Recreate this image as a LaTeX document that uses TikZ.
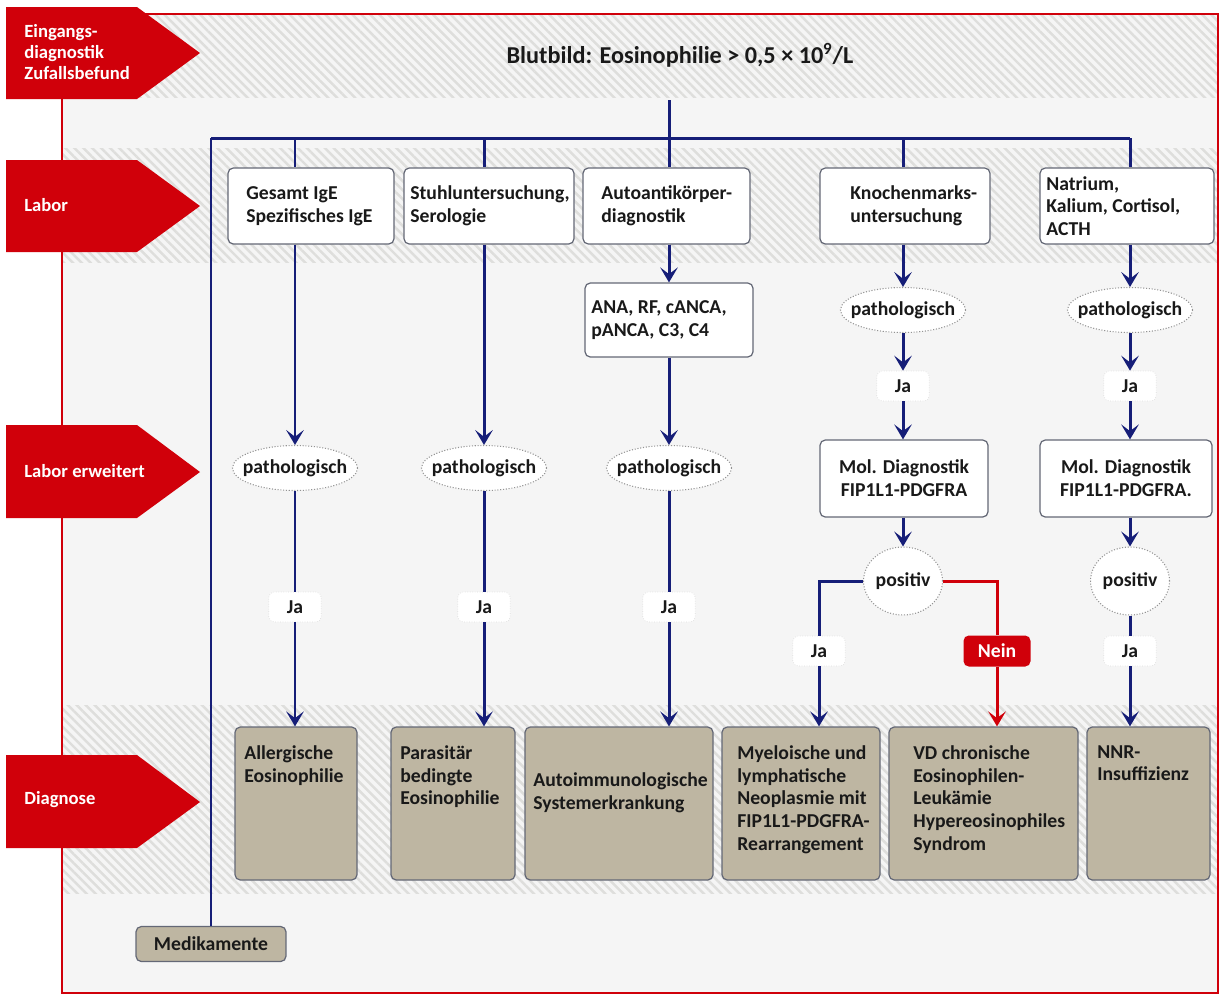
\documentclass[tikz,border=0pt]{standalone}
\usepackage{fontspec}
\setmainfont{Carlito}
\usetikzlibrary{arrows.meta,shapes.geometric,patterns.meta,fit}
\definecolor{navy}{RGB}{22,30,120}
\definecolor{tagred}{RGB}{208,0,10}
\definecolor{tanfill}{RGB}{190,182,162}
\definecolor{bggray}{RGB}{245,245,245}
\definecolor{hatchc}{RGB}{222,222,220}
\definecolor{ink}{RGB}{25,25,25}
\definecolor{boxline}{RGB}{100,104,118}
\tikzset{
  hatchband/.style={pattern={Lines[angle=-45,distance=3.6pt,line width=1.4pt]}, pattern color=hatchc},
  tagshape/.style={fill=tagred},
  tagtxt/.style={text=white, align=left, anchor=west, font=\bfseries\fontsize{10.6}{12}\selectfont, inner sep=0pt},
  labbox/.style={draw=boxline, fill=white, rounded corners=3pt, line width=0.7pt, inner sep=0pt},
  diagbox/.style={draw=boxline, fill=tanfill, rounded corners=3pt, line width=0.7pt, inner sep=0pt},
  txt/.style={text=ink, align=left, inner sep=0pt},
  ctxt/.style={text=ink, align=center, inner sep=0pt},
  ell/.style={ellipse, draw=gray!85, densely dotted, line width=0.6pt, fill=white, text=ink, inner xsep=-4.5pt, inner ysep=0pt, minimum width=2.45cm, minimum height=0.9cm},
  posell/.style={ellipse, draw=gray!85, densely dotted, line width=0.6pt, fill=white, text=ink, inner sep=0pt, minimum width=1.58cm, minimum height=1.36cm},
  jabox/.style={draw=gray!25, densely dotted, fill=white, rounded corners=3pt, text=ink, minimum width=1.05cm, minimum height=0.6cm, inner sep=0pt},
  neinbox/.style={fill=tagred, rounded corners=3pt, text=white, minimum width=1.34cm, minimum height=0.62cm, inner sep=0pt},
  conn/.style={draw=navy, line width=1.7pt},
  arr/.style={conn, -{Stealth[length=8.5pt,width=10pt,inset=3.8pt]}},
  rconn/.style={draw=tagred, line width=1.7pt},
  rarr/.style={rconn, -{Stealth[length=8.5pt,width=10pt,inset=3.8pt]}},
}
\begin{document}
\begin{tikzpicture}[x=0.02cm,y=-0.02cm,font=\bfseries\fontsize{11.2}{13}\selectfont]
\useasboundingbox (0,0) rectangle (1222,995);
\fill[white] (0,0) rectangle (1222,995);
% background and bands
\fill[bggray] (62,14) rectangle (1218,993);
\fill[hatchband] (62,14) rectangle (1218,97);
\fill[hatchband] (62,148) rectangle (1218,262);
\fill[hatchband] (62,705) rectangle (1218,893);
% frame
\draw[tagred, line width=1.2pt] (137,14) -- (1218,14) -- (1218,993) -- (62,993) -- (62,99);
% row tags
\fill[tagshape] (6,7) -- (137,7) -- (200,53) -- (137,99) -- (6,99) -- cycle;
\fill[tagshape] (6,160) -- (137,160) -- (200,206) -- (137,252) -- (6,252) -- cycle;
\fill[tagshape] (6,425) -- (137,425) -- (200,472) -- (137,518) -- (6,518) -- cycle;
\fill[tagshape] (6,755) -- (137,755) -- (200,802) -- (137,848) -- (6,848) -- cycle;
\node[tagtxt] (tg1) at (24,52) {Eingangs-\\diagnostik\\Zufallsbefund};
\node[tagtxt] (tg2) at (24,205) {Labor};
\node[tagtxt] (tg3) at (24,471) {Labor erweitert};
\node[tagtxt] (tg4) at (24,800) {Diagnose};
% title
\node[ctxt, font=\bfseries\fontsize{13.8}{16}\selectfont] (title) at (680,55) {Blutbild: Eosinophilie > 0,5 × 10\textsuperscript{9}/L};
% lab boxes
\node[labbox, fit={(228,168) (394,244)}] (b1) {};
\node[txt, anchor=west] (b1t) at (246,206) {Gesamt IgE\\Spezifisches IgE};
\node[labbox, fit={(404,168) (574,244)}] (b2) {};
\node[txt, anchor=west] (b2t) at (410,206) {Stuhluntersuchung,\\Serologie};
\node[labbox, fit={(583,168) (750,244)}] (b3) {};
\node[txt, anchor=west] (b3t) at (601,206) {Autoantikörper-\\diagnostik};
\node[labbox, fit={(820,168) (990,244)}] (b4) {};
\node[txt, anchor=west] (b4t) at (850,206) {Knochenmarks-\\untersuchung};
\node[labbox, fit={(1040,168) (1214,244)}] (b5) {};
\node[txt, anchor=west] (b5t) at (1046,206) {Natrium,\\Kalium, Cortisol,\\ACTH};
% ANA box
\node[labbox, fit={(585,283) (753,357)}] (ana) {};
\node[txt, anchor=west] (anat) at (591,320) {ANA, RF, cANCA,\\pANCA, C3, C4};
% ellipses
\node[ell] (p1) at (295,468) {pathologisch};
\node[ell] (p2) at (484,468) {pathologisch};
\node[ell] (p3) at (669,468) {pathologisch};
\node[ell, minimum width=2.5cm] (p4) at (903,310) {pathologisch};
\node[ell, minimum width=2.5cm] (p5) at (1130,310) {pathologisch};
% Ja boxes
\node[jabox] (j1) at (295,607) {Ja};
\node[jabox] (j2) at (484,607) {Ja};
\node[jabox] (j3) at (669,607) {Ja};
\node[jabox] (j4a) at (903,386) {Ja};
\node[jabox] (j5a) at (1130,386) {Ja};
% Mol boxes
\node[labbox, fit={(820,440) (988,517)}] (m4) {};
\node[ctxt] (m4t) at (904,478) {Mol. Diagnostik\\FIP1L1-PDGFRA};
\node[labbox, fit={(1040,440) (1212,517)}] (m5) {};
\node[ctxt] (m5t) at (1126,478) {Mol. Diagnostik\\FIP1L1-PDGFRA.};
% positiv
\node[posell] (q4) at (903,581) {positiv};
\node[posell] (q5) at (1130,581) {positiv};
\node[jabox] (j4b) at (819,651) {Ja};
\node[neinbox] (nein) at (997,651) {Nein};
\node[jabox] (j5b) at (1130,651) {Ja};
% diagnosis boxes
\node[diagbox, fit={(235,727) (357,880)}] (d1) {};
\node[txt, anchor=north west] (d1t) at (244,745) {Allergische\\Eosinophilie};
\node[diagbox, fit={(391,727) (515,880)}] (d2) {};
\node[txt, anchor=north west] (d2t) at (400,745) {Parasitär\\bedingte\\Eosinophilie};
\node[diagbox, fit={(525,727) (713,880)}] (d3) {};
\node[txt, anchor=north west] (d3t) at (533,772) {Autoimmunologische\\Systemerkrankung};
\node[diagbox, fit={(722,727) (880,880)}] (d4) {};
\node[txt, anchor=north west] (d4t) at (737,745) {Myeloische und\\lymphatische\\Neoplasmie mit\\FIP1L1-PDGFRA-\\Rearrangement};
\node[diagbox, fit={(889,727) (1078,880)}] (d5) {};
\node[txt, anchor=north west] (d5t) at (913,745) {VD chronische\\Eosinophilen-\\Leukämie\\Hypereosinophiles\\Syndrom};
\node[diagbox, fit={(1087,727) (1210,880)}] (d6) {};
\node[txt, anchor=north west] (d6t) at (1097,745) {NNR-\\Insuffizienz};
\node[diagbox, minimum width=3cm, minimum height=0.7cm] (med) at (211,944) {\textcolor{ink}{Medikamente}};
% connectors
\coordinate (top) at (669,100);
\coordinate (busL) at (211,138);
\coordinate (busR) at (1130,138);
\draw[conn] (top) -- (669,138);
\draw[conn] (busL) -- (busR);
\draw[conn] (busL) -- (med.north);
\draw[conn] (295,138) -- (295,0 |- b1.north);
\draw[conn] (484,138) -- (484,0 |- b2.north);
\draw[conn] (669,138) -- (669,0 |- b3.north);
\draw[conn] (903,138) -- (903,0 |- b4.north);
\draw[conn] (busR) -- (1130,0 |- b5.north);
% column 1
\draw[arr] (295,0 |- b1.south) -- (p1);
\draw[conn] (p1) -- (j1);
\draw[arr] (j1) -- (295,0 |- d1.north);
% column 2
\draw[arr] (484,0 |- b2.south) -- (p2);
\draw[conn] (p2) -- (j2);
\draw[arr] (j2) -- (484,0 |- d2.north);
% column 3
\draw[arr] (669,0 |- b3.south) -- (669,0 |- ana.north);
\draw[arr] (669,0 |- ana.south) -- (p3);
\draw[conn] (p3) -- (j3);
\draw[arr] (j3) -- (669,0 |- d3.north);
% column 4
\draw[arr] (903,0 |- b4.south) -- (p4);
\draw[arr] (p4) -- (j4a);
\draw[arr] (j4a) -- (903,0 |- m4.north);
\draw[arr] (903,0 |- m4.south) -- (q4);
\draw[conn] (q4.west) -| (j4b);
\draw[arr] (j4b) -- (819,0 |- d4.north);
\draw[rconn] (q4.east) -| (nein);
\draw[rarr] (nein) -- (997,0 |- d5.north);
% column 5
\draw[arr] (1130,0 |- b5.south) -- (p5);
\draw[arr] (p5) -- (j5a);
\draw[arr] (j5a) -- (1130,0 |- m5.north);
\draw[arr] (1130,0 |- m5.south) -- (q5);
\draw[conn] (q5) -- (j5b);
\draw[arr] (j5b) -- (1130,0 |- d6.north);
\end{tikzpicture}
\end{document}
